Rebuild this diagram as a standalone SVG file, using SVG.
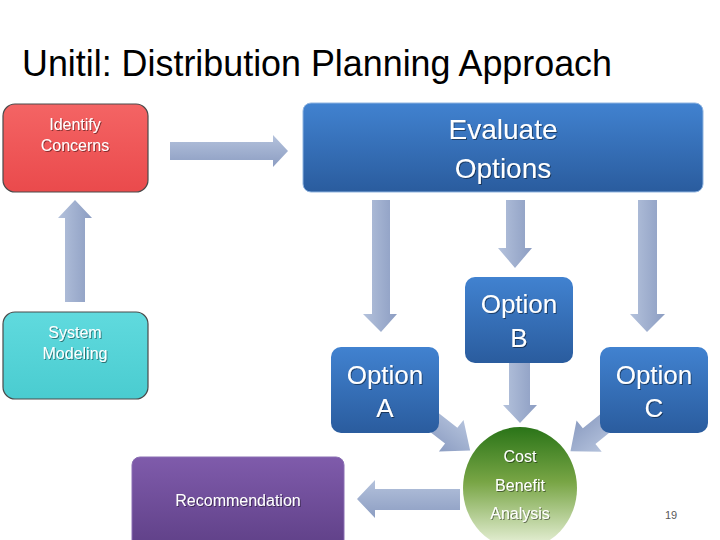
<svg xmlns="http://www.w3.org/2000/svg" width="720" height="540" viewBox="0 0 720 540">
<defs>
<linearGradient id="gRed" x1="0" y1="0" x2="0" y2="1"><stop offset="0" stop-color="#f46464"/><stop offset="1" stop-color="#ea4a4c"/></linearGradient>
<linearGradient id="gCyan" x1="0" y1="0" x2="0" y2="1"><stop offset="0" stop-color="#60dade"/><stop offset="1" stop-color="#4accd0"/></linearGradient>
<linearGradient id="gBlue" x1="0" y1="0" x2="0" y2="1"><stop offset="0" stop-color="#4182d0"/><stop offset="1" stop-color="#2a5c9e"/></linearGradient>
<linearGradient id="gPurple" x1="0" y1="0" x2="0" y2="1"><stop offset="0" stop-color="#7f5bab"/><stop offset="1" stop-color="#5e3f86"/></linearGradient>
<linearGradient id="gGreen" x1="0" y1="0" x2="0" y2="1"><stop offset="0" stop-color="#2a7418"/><stop offset="0.45" stop-color="#78a545"/><stop offset="1" stop-color="#eef5e0"/></linearGradient>
<linearGradient id="gArrV" x1="0" y1="0" x2="1" y2="0"><stop offset="0" stop-color="#b4c2dc"/><stop offset="1" stop-color="#8c9dc2"/></linearGradient>
<linearGradient id="gArrH" x1="0" y1="0" x2="0" y2="1"><stop offset="0" stop-color="#b4c2dc"/><stop offset="1" stop-color="#8c9dc2"/></linearGradient>
<filter id="ts" x="-10%" y="-10%" width="130%" height="140%"><feDropShadow dx="1" dy="1" stdDeviation="0.6" flood-color="#000" flood-opacity="0.45"/></filter>
</defs>
<style>
.box{stroke:#4a4a4a;stroke-width:1.2}
.opt{stroke:none}
.lbl{font-family:"Liberation Sans",Arial,sans-serif;fill:#fff;text-anchor:middle;filter:url(#ts)}
.sm{font-size:16px}
.big{font-size:28px}
.mid{font-size:26px}
.arrV{fill:url(#gArrV)}
.arrH{fill:url(#gArrH)}
</style>
<rect width="720" height="540" fill="#fff"/>
<text x="22" y="76" font-family="'Liberation Sans',Arial,sans-serif" font-size="37" textLength="590" lengthAdjust="spacingAndGlyphs" fill="#000">Unitil: Distribution Planning Approach</text>

<g id="connectors">
<polygon class="arrV" points="65,302 65,218 58,218 75,200 92,218 85,218 85,302"/>
<polygon class="arrH" points="170,142 273,142 273,135 288,151 273,167 273,160 170,160"/>
<polygon class="arrV" points="372,200 390,200 390,314 397,314 381,332 363,314 372,314"/>
<polygon class="arrV" points="506,200 525,200 525,248 532,248 515,268 498,248 506,248"/>
<polygon class="arrV" points="638,200 657,200 657,314 665,314 647,332 630,314 638,314"/>
<polygon class="arrV" points="509,360 530,360 530,405 537,405 520,423 503,405 509,405"/>
<polygon class="arrH" transform="translate(426,416) rotate(38)" points="0,-10 32,-10 32,-20 56,0 32,20 32,10 0,10"/>
<polygon class="arrH" transform="translate(614,416) rotate(141)" points="0,-10 32,-10 32,-20 56,0 32,20 32,10 0,10"/>
<polygon class="arrH" points="460,489 375,489 375,480 357,499 375,518 375,510 460,510"/>
</g>

<g id="identify">
<rect class="box" x="3" y="104" width="145" height="88" rx="12" fill="url(#gRed)"/>
<text class="lbl sm" x="75" y="130">Identify</text>
<text class="lbl sm" x="75" y="151">Concerns</text>
</g>
<g id="system">
<rect class="box" x="3" y="312" width="145" height="87" rx="12" fill="url(#gCyan)"/>
<text class="lbl sm" x="75" y="338">System</text>
<text class="lbl sm" x="75" y="359">Modeling</text>
</g>
<g id="evaluate">
<rect x="303" y="103" width="400" height="89" rx="8" fill="url(#gBlue)" stroke="#8fb4e0" stroke-width="1"/>
<text class="lbl big" x="503" y="139">Evaluate</text>
<text class="lbl big" x="503" y="178">Options</text>
</g>
<g id="optionB">
<rect class="opt" x="465" y="277" width="108" height="86" rx="10" fill="url(#gBlue)"/>
<text class="lbl mid" x="519" y="313">Option</text>
<text class="lbl mid" x="519" y="347">B</text>
</g>
<g id="optionA">
<rect class="opt" x="331" y="347" width="108" height="86" rx="10" fill="url(#gBlue)"/>
<text class="lbl mid" x="385" y="384">Option</text>
<text class="lbl mid" x="385" y="417">A</text>
</g>
<g id="optionC">
<rect class="opt" x="600" y="347" width="108" height="86" rx="10" fill="url(#gBlue)"/>
<text class="lbl mid" x="654" y="384">Option</text>
<text class="lbl mid" x="654" y="417">C</text>
</g>
<g id="costBenefit">
<ellipse cx="520" cy="488" rx="57" ry="61" fill="url(#gGreen)"/>
<text class="lbl sm" x="520" y="462">Cost</text>
<text class="lbl sm" x="520" y="491">Benefit</text>
<text class="lbl sm" x="520" y="519">Analysis</text>
</g>
<g id="recommendation">
<rect x="132" y="457" width="212" height="95" rx="8" fill="url(#gPurple)" stroke="#8a6fb3" stroke-width="1"/>
<text class="lbl sm" x="238" y="506">Recommendation</text>
</g>
<text x="671" y="519" font-family="'Liberation Sans',Arial,sans-serif" font-size="11" fill="#595959" text-anchor="middle">19</text>
</svg>
